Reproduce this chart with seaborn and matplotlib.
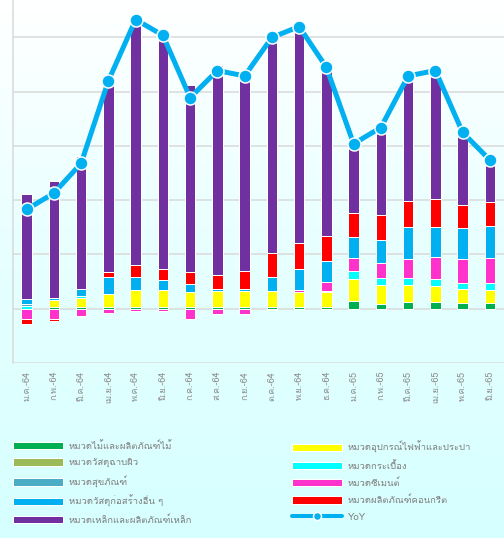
import numpy as np
import matplotlib
matplotlib.use("Agg")
import matplotlib.pyplot as plt
import seaborn as sns
from matplotlib import font_manager
from matplotlib.ft2font import FT2Font
from matplotlib.patches import Patch
from matplotlib.lines import Line2D

# month labels
months = ["ม.ค.-64", "ก.พ.-64", "มี.ค.-64", "เม.ย.-64", "พ.ค.-64", "มิ.ย.-64",
          "ก.ค.-64", "ส.ค.-64", "ก.ย.-64", "ต.ค.-64", "พ.ย.-64", "ธ.ค.-64",
          "ม.ค.-65", "ก.พ.-65", "มี.ค.-65", "เม.ย.-65", "พ.ค.-65", "มิ.ย.-65"]

# contributions per category (stacking order bottom -> top)
wood = [0.0, 0.4, 0.4, 0.4, 0.4, 0.4, 0.4, 0.4, 0.4, 0.4, 0.4, 0.4, 1.5, 0.9, 1.2, 1.2, 1.1, 1.1]
electric = [0.0, 1.2, 1.6, 2.4, 3.0, 3.1, 2.7, 2.8, 2.8, 2.8, 2.6, 2.6, 3.9, 3.4, 3.2, 3.0, 2.5, 2.4]
surface = [0.0] * 18
tiles = [0.5, 0.0, 0.3, 0.0, 0.0, 0.0, 0.0, 0.0, 0.0, 0.0, 0.0, 0.2, 1.5, 1.4, 1.3, 1.2, 1.2, 1.3]
sanitary = [0.4, 0.0, 0.0, 0.0, 0.0, 0.0, 0.0, 0.0, 0.0, 0.0, 0.0, 0.0, 0.0, 0.0, 0.0, 0.0, 0.0, 0.0]
cement = [-1.9, -1.9, -1.3, -0.8, -0.5, -0.5, -1.9, -1.0, -1.0, -0.2, 0.4, 1.8, 2.5, 2.7, 3.4, 4.1, 4.4, 4.5]
other = [0.9, 0.4, 1.3, 3.0, 2.5, 1.75, 1.4, 0.4, 0.4, 2.7, 4.0, 3.8, 3.9, 4.3, 6.0, 5.5, 5.7, 6.0]
concrete = [-1.0, -0.3, 0.0, 1.0, 2.1, 2.1, 2.3, 2.6, 3.4, 4.4, 4.7, 4.6, 4.4, 4.6, 4.8, 5.3, 4.2, 4.4]
steel = [19.4, 21.5, 24.5, 36.0, 45.8, 43.5, 34.4, 38.7, 36.9, 39.9, 39.9, 31.1, 12.7, 16.1, 23.0, 23.6, 13.4, 7.7]
yoy = [18.3, 21.3, 26.8, 42.0, 53.3, 50.4, 38.9, 43.9, 42.9, 50.0, 52.0, 44.5, 30.4, 33.4, 42.9, 43.9, 32.5, 27.4]

names = ["หมวดไม้และผลิตภัณฑ์ไม้", "หมวดอุปกรณ์ไฟฟ้าและประปา", "หมวดวัสดุฉาบผิว",
         "หมวดกระเบื้อง", "หมวดสุขภัณฑ์", "หมวดซีเมนต์", "หมวดวัสดุก่อสร้างอื่น ๆ",
         "หมวดผลิตภัณฑ์คอนกรีต", "หมวดเหล็กและผลิตภัณฑ์เหล็ก"]
colors = ["#00B050", "#FFFF00", "#9BBB59", "#00FFFF", "#4BACC6", "#FF33CC",
          "#00B0F0", "#FF0000", "#7030A0"]
series = [wood, electric, surface, tiles, sanitary, cement, other, concrete, steel]


def thai_font():
    # find any installed font that has Thai glyphs
    for f in font_manager.fontManager.ttflist:
        try:
            if 0x0E01 in FT2Font(f.fname).get_charmap():
                return f.name
        except Exception:
            pass
    return "DejaVu Sans"


sns.set_theme(style="white")
plt.rcParams["font.family"] = [thai_font(), "DejaVu Sans"]

fig = plt.figure(figsize=(504 / 72, 538 / 72), dpi=72)

# background gradient white -> light cyan
bg = fig.add_axes([0, 0, 1, 1], zorder=-1)
grad = np.linspace(0, 1, 256).reshape(-1, 1)
cmap = matplotlib.colors.LinearSegmentedColormap.from_list("bg", ["#FFFFFF", "#E6FFFF", "#D6FFFF"])
bg.imshow(grad, aspect="auto", cmap=cmap, extent=[0, 1, 0, 1], origin="upper")
bg.axis("off")

ax = fig.add_axes([13 / 504, 1 - 363 / 538, 490.5 / 504, 363 / 538])
ax.set_facecolor("none")

x = np.arange(len(months))
pos_bottom = np.zeros(len(months))
neg_bottom = np.zeros(len(months))
for vals, c in zip(series, colors):
    v = np.array(vals)
    base = np.where(v >= 0, pos_bottom, neg_bottom)
    ax.bar(x, v, bottom=base, width=0.38, color=c, edgecolor="white", linewidth=1, zorder=2)
    pos_bottom += np.where(v > 0, v, 0)
    neg_bottom += np.where(v < 0, v, 0)

sns.lineplot(x=x, y=yoy, ax=ax, color="#00B0F0", linewidth=5, marker="o", markersize=13,
             markeredgecolor="white", markeredgewidth=1.5, zorder=3)

ax.set_xlim(-0.5, len(months) - 0.5)
ax.set_ylim(-10, 56.9)
ax.set_yticks([-10, 0, 10, 20, 30, 40, 50])
ax.set_yticklabels([])
ax.tick_params(axis="y", length=0)
ax.grid(axis="y", color="#D9D9D9", linewidth=1.5, zorder=0)
ax.set_xticks(x)
ax.set_xticklabels(months, rotation=90, fontsize=9, color="#8C8C8C", va="top")
ax.tick_params(axis="x", length=0, pad=8)
for s in ["top", "right", "bottom"]:
    ax.spines[s].set_visible(False)
ax.spines["left"].set_color("#D9D9D9")
ax.spines["left"].set_linewidth(1.5)

# legend, two columns placed separately
def patch(i):
    return Patch(facecolor=colors[i], edgecolor="white", linewidth=1, label=names[i])

left_handles = [patch(0), patch(2), patch(4), patch(6), patch(8)]
right_handles = [patch(1), patch(3), patch(5), patch(7),
                 Line2D([0], [0], color="#00B0F0", linewidth=4, marker="o", markersize=8,
                        markeredgecolor="white", markeredgewidth=1.5, label="YoY")]
fs = 9.5
kw = dict(frameon=False, fontsize=fs, handlelength=50 / fs, handleheight=8 / fs,
          handletextpad=6 / fs, labelspacing=0.8, borderpad=0, borderaxespad=0,
          labelcolor="#7F7F7F", loc="upper left")
fig.legend(handles=left_handles, bbox_to_anchor=(13 / 504, 1 - 441 / 538), **kw)
fig.legend(handles=right_handles, bbox_to_anchor=(292 / 504, 1 - 441 / 538), **kw)

fig.savefig("out.png", dpi=72)
